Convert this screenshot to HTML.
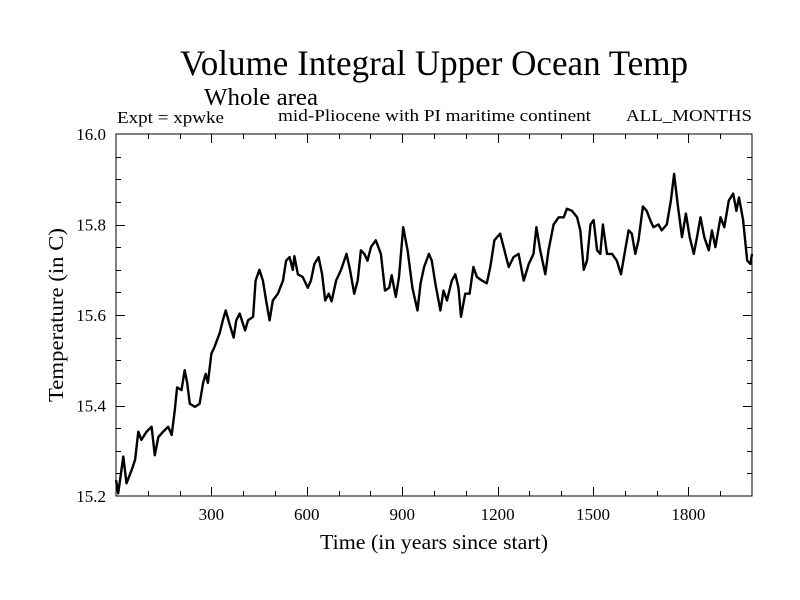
<!DOCTYPE html>
<html><head><meta charset="utf-8"><style>
html,body{margin:0;padding:0;background:#fff;}
svg{display:block;font-family:"Liberation Serif",serif;}
</style></head><body>
<svg id="chart" width="800" height="600" xmlns="http://www.w3.org/2000/svg">
<rect width="800" height="600" fill="#fff"/>
<text x="434" y="75" font-size="36" text-anchor="middle" textLength="508" lengthAdjust="spacingAndGlyphs">Volume Integral Upper Ocean Temp</text>
<text x="204" y="105" font-size="24" textLength="114" lengthAdjust="spacingAndGlyphs">Whole area</text>
<text x="117" y="123" font-size="17" textLength="107" lengthAdjust="spacingAndGlyphs">Expt = xpwke</text>
<text x="278" y="121" font-size="17" textLength="313" lengthAdjust="spacingAndGlyphs">mid-Pliocene with PI maritime continent</text>
<text x="752" y="121" font-size="17" text-anchor="end" textLength="126" lengthAdjust="spacingAndGlyphs">ALL_MONTHS</text>
<text x="434" y="549" font-size="21" text-anchor="middle" textLength="228" lengthAdjust="spacingAndGlyphs">Time (in years since start)</text>
<text x="0" y="0" font-size="21" text-anchor="middle" transform="translate(63,315) rotate(-90)" textLength="174" lengthAdjust="spacingAndGlyphs">Temperature (in C)</text>
<g id="axes"></g>
<path id="series" fill="none" stroke="#000" stroke-width="2.4" stroke-linejoin="round"/>
<rect x="116" y="134" width="636" height="362" fill="none" stroke="#000" stroke-width="1"/>
</svg>
<script>
const years=[0,7,23,33,49,60,70,80,96,112,122,133,148,164,175,185,192,206,216,224,232,248,263,274,282,289,300,310,326,336,345,357,370,378,389,406,415,431,439,451,462,472,483,493,509,525,535,546,556,561,572,587,603,613,624,637,648,658,669,678,692,708,725,736,749,760,770,781,791,802,817,833,846,859,867,880,890,903,917,932,948,958,969,984,993,1004,1020,1030,1041,1056,1067,1077,1085,1098,1112,1124,1135,1151,1166,1177,1190,1208,1219,1235,1250,1266,1282,1298,1313,1322,1334,1350,1360,1376,1392,1408,1418,1434,1450,1460,1471,1481,1492,1502,1513,1523,1531,1544,1560,1575,1588,1599,1612,1622,1633,1643,1657,1669,1680,1690,1706,1716,1732,1745,1755,1766,1780,1792,1804,1817,1827,1838,1850,1864,1874,1885,1901,1913,1927,1941,1951,1959,1972,1985,1995,2000];
const temps=[15.235,15.206,15.287,15.228,15.257,15.28,15.342,15.324,15.342,15.353,15.29,15.33,15.342,15.353,15.335,15.39,15.44,15.434,15.478,15.45,15.404,15.397,15.404,15.45,15.47,15.45,15.515,15.53,15.56,15.588,15.61,15.58,15.55,15.588,15.603,15.566,15.588,15.596,15.676,15.70,15.676,15.632,15.588,15.632,15.647,15.676,15.72,15.728,15.70,15.73,15.69,15.684,15.66,15.676,15.713,15.728,15.69,15.632,15.647,15.63,15.676,15.70,15.735,15.70,15.647,15.676,15.743,15.735,15.72,15.75,15.765,15.735,15.654,15.66,15.688,15.64,15.684,15.794,15.743,15.66,15.61,15.67,15.706,15.735,15.72,15.67,15.61,15.654,15.632,15.676,15.69,15.66,15.596,15.647,15.647,15.706,15.684,15.676,15.67,15.706,15.765,15.78,15.75,15.706,15.728,15.735,15.676,15.713,15.735,15.794,15.743,15.69,15.743,15.80,15.816,15.816,15.835,15.83,15.816,15.787,15.70,15.72,15.80,15.81,15.743,15.735,15.80,15.735,15.735,15.72,15.69,15.735,15.787,15.78,15.735,15.765,15.84,15.83,15.81,15.794,15.80,15.787,15.80,15.853,15.912,15.846,15.772,15.824,15.772,15.735,15.772,15.816,15.772,15.743,15.787,15.75,15.816,15.794,15.853,15.868,15.83,15.86,15.81,15.72,15.713,15.735];
const xTickLabels=[300,600,900,1200,1500,1800];
const yTickLabels=["15.2","15.4","15.6","15.8","16.0"];
const X0=116,X1=752,Y0=496,Y1=134;
const xs=v=>X0+(v-0)/(2000-0)*(X1-X0);
const ys=v=>Y0-(v-15.2)/(16.0-15.2)*(Y0-Y1);
const ns="http://www.w3.org/2000/svg";
const axes=document.getElementById('axes');
function line(x1,y1,x2,y2,name){const l=document.createElementNS(ns,'line');l.setAttribute('x1',x1);l.setAttribute('y1',y1);l.setAttribute('x2',x2);l.setAttribute('y2',y2);l.setAttribute('stroke','#000');l.setAttribute('stroke-width','1');


axes.appendChild(l);}
for(let yr=100;yr<2000;yr+=100){const x=Math.round(xs(yr))+0.5;const len=(yr%300===0)?9:5;line(x,Y0,x,Y0-len,'x-tick');line(x,Y1,x,Y1+len,'x-tick-top');}
for(let k=1;k<16;k++){const v=15.2+k*0.05;const y=Math.round(ys(v))+0.5;const len=(k%4===0)?9:5;line(X0,y,X0+len,y,'y-tick');line(X1,y,X1-len,y,'y-tick-right');}
xTickLabels.forEach(v=>{const t=document.createElementNS(ns,'text');t.setAttribute('x',xs(v));t.setAttribute('y',Y0+24);t.setAttribute('font-size','17');t.setAttribute('text-anchor','middle');t.textContent=v;


axes.appendChild(t);});
yTickLabels.forEach(s=>{const t=document.createElementNS(ns,'text');t.setAttribute('x',X0-10);t.setAttribute('y',ys(parseFloat(s))+6);t.setAttribute('font-size','17');t.setAttribute('text-anchor','end');t.textContent=s;


axes.appendChild(t);});
document.getElementById('series').setAttribute('d',years.map((y,i)=>(i?'L':'M')+xs(y).toFixed(1)+' '+ys(temps[i]).toFixed(1)).join(' '));
</script>
</body></html>
